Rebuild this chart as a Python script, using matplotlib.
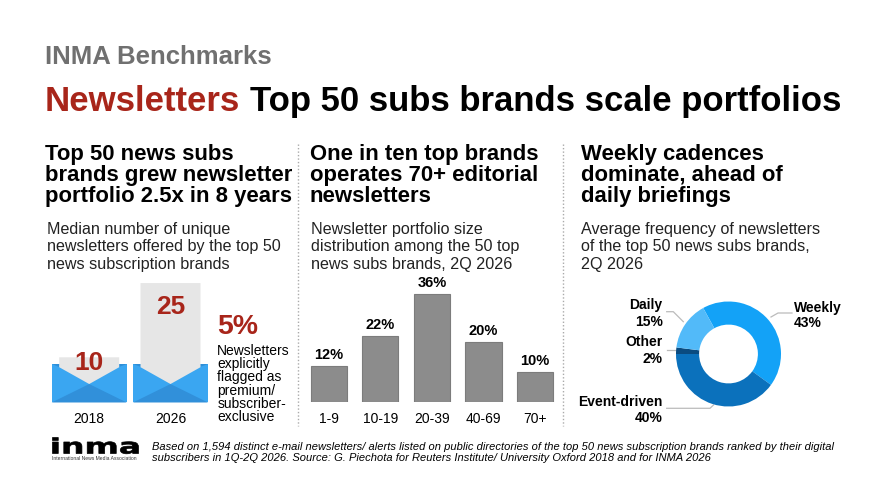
import matplotlib
matplotlib.use("Agg")
import matplotlib.pyplot as plt
from matplotlib.patches import Polygon, Rectangle, PathPatch
from matplotlib.textpath import TextPath
from matplotlib.font_manager import FontProperties
from matplotlib.transforms import Affine2D

plt.rcParams['font.family'] = ['Liberation Sans', 'DejaVu Sans']

# ======= DATA ==========
years = ["2018", "2026"]
median_newsletters = [10, 25]
premium_share = "5%"
premium_text = ["Newsletters", "explicitly", "flagged as", "premium/", "subscriber-", "exclusive"]

size_bins = ["1-9", "10-19", "20-39", "40-69", "70+"]
size_share = [12, 22, 36, 20, 10]

freq_labels = ["Weekly", "Event-driven", "Other", "Daily"]
freq_share = [43, 40, 2, 15]
freq_colors = ["#13A2F7", "#0B71BC", "#0A4B80", "#52BAF9"]

headers = [
    ["Top 50 news subs", "brands grew newsletter", "portfolio 2.5x in 8 years"],
    ["One in ten top brands", "operates 70+ editorial", "newsletters"],
    ["Weekly cadences", "dominate, ahead of", "daily briefings"],
]
subtitles = [
    ["Median number of unique", "newsletters offered by the top 50", "news subscription brands"],
    ["Newsletter portfolio size", "distribution among the 50 top", "news subs brands, 2Q 2026"],
    ["Average frequency of newsletters", "of the top 50 news subs brands,", "2Q 2026"],
]
footer = [
    "Based on 1,594 distinct e-mail newsletters/ alerts listed on public directories of the top 50 news subscription brands ranked by their digital",
    "subscribers in 1Q-2Q 2026. Source: G. Piechota for Reuters Institute/ University Oxford 2018 and for INMA 2026",
]
# =======================

W, H = 887, 499
RED = "#A8251A"

fig = plt.figure(figsize=(W / 100, H / 100), dpi=100)
bg = fig.add_axes([0, 0, 1, 1])
bg.set_xlim(0, W)
bg.set_ylim(H, 0)
bg.axis("off")


def px_axes(left, top, right, bottom):
    return fig.add_axes([left / W, 1 - bottom / H, (right - left) / W, (bottom - top) / H])


def put(x, y, s, **kw):
    return bg.text(x, y, s, va="baseline", **kw)


# titles
put(45, 64, "INMA Benchmarks", color="#707070", fontsize=18.5, fontweight="bold")
t1 = put(45, 110.5, "Newsletters", color=RED, fontsize=25, fontweight="bold")
bg.annotate("Top 50 subs brands scale portfolios", xy=(1, 0), xycoords=t1,
            xytext=(7, 0), textcoords="offset points", va="bottom", ha="left",
            fontsize=25, fontweight="bold", color="black")

# column headers and subtitles
head_x = [45, 310, 581]
sub_x = [47, 311, 581]
for c in range(3):
    for i, s in enumerate(headers[c]):
        put(head_x[c], 160 + i * 21, s, fontsize=15.9, fontweight="bold", color="black")
    for i, s in enumerate(subtitles[c]):
        put(sub_x[c], 234 + i * 17.3, s, fontsize=11.6, color="#222222")

# dotted separators
for x in [298, 563]:
    bg.plot([x, x], [144, 426], color="#AAAAAA", lw=1, ls=(0, (1, 1.5)))

# ---- column 1: envelopes ----
ax1 = px_axes(89.2 - 0.55 * 81.3, 406.8 - 26.5 * 4.95, 170.5 + 0.55 * 81.3, 406.8)
ax1.set_xlim(-0.55, 1.55)
ax1.set_ylim(0, 26.5)
for i, v in enumerate(median_newsletters):
    ax1.add_patch(Rectangle((i - 0.461, 0.87), 0.922, 7.78, color="#3AA6F1", lw=0, zorder=1))
    ax1.add_patch(Polygon([(i - 0.461, 8.65), (i - 0.369, 8.65), (i - 0.369, 8.1)],
                          closed=True, color="#2F8FD8", lw=0, zorder=1.5))
    ax1.add_patch(Polygon([(i + 0.461, 8.65), (i + 0.369, 8.65), (i + 0.369, 8.1)],
                          closed=True, color="#2F8FD8", lw=0, zorder=1.5))
    ax1.add_patch(Polygon([(i - 0.369, v), (i + 0.369, v), (i + 0.369, 8.0), (i, 4.6), (i - 0.369, 8.0)],
                          closed=True, color="#E6E6E6", lw=0, zorder=2))
    ax1.add_patch(Polygon([(i - 0.461, 0.87), (i, 4.6), (i + 0.461, 0.87)],
                          closed=True, color="#3190DA", lw=0, zorder=3))
    ax1.text(i, 0.75 * v, str(v), ha="center", va="baseline", color=RED,
             fontsize=19, fontweight="bold", zorder=4)
ax1.set_xticks(range(len(years)), years)
ax1.set_yticks([])
ax1.tick_params(length=0, pad=4, labelsize=10)
ax1.set_facecolor("none")
for sp in ax1.spines.values():
    sp.set_visible(False)

put(217.3, 333.5, premium_share, color=RED, fontsize=20.4, fontweight="bold")
for i, s in enumerate(premium_text):
    put(217.3, 355 + i * 13.2, s, fontsize=10, color="black")

# ---- column 2: bars ----
ax2 = px_axes(302.9, 402 - 40.8 * 2.99, 560.9, 402)
ax2.bar(range(len(size_bins)), size_share, width=0.7, color="#8C8C8C", edgecolor="#7C7C7C", linewidth=0.8)
for i, v in enumerate(size_share):
    ax2.annotate(f"{v}%", (i, v), xytext=(0, 3), textcoords="offset points",
                 ha="center", va="bottom", fontsize=10.5, fontweight="bold")
ax2.set_xlim(-0.5, len(size_bins) - 0.5)
ax2.set_ylim(0, 40.8)
ax2.set_xticks(range(len(size_bins)), size_bins)
ax2.set_yticks([])
ax2.tick_params(length=0, pad=7.5, labelsize=10)
ax2.set_facecolor("none")
for sp in ax2.spines.values():
    sp.set_visible(False)

# ---- column 3: donut ----
ax3 = px_axes(676, 301.5, 781, 406.5)
ax3.pie(freq_share, colors=freq_colors, startangle=118.8, counterclock=False,
        radius=1, wedgeprops=dict(width=0.44, linewidth=0))
ax3.set_xlim(-1, 1)
ax3.set_ylim(-1, 1)
ax3.set_aspect("equal")
ax3.axis("off")

lead = "#BBBBBB"
bg.plot([771, 778, 792], [317, 313, 313], color=lead, lw=0.9)
bg.plot([666.7, 673.3, 683.3], [311.7, 311.7, 321.7], color=lead, lw=0.9)
bg.plot([666.7, 676], [350, 350], color=lead, lw=0.9)
bg.plot([666.7, 710, 713.5], [408.3, 408.3, 405], color=lead, lw=0.9)

lab = dict(fontsize=10, fontweight="bold", color="black")
put(794, 312, freq_labels[0], ha="left", **lab)
put(794, 327, f"{freq_share[0]}%", ha="left", **lab)
put(662.7, 309, freq_labels[3], ha="right", **lab)
put(662.7, 325.5, f"{freq_share[3]}%", ha="right", **lab)
put(662.7, 346.5, freq_labels[2], ha="right", **lab)
put(662.7, 363, f"{freq_share[2]}%", ha="right", **lab)
put(662.7, 406.5, freq_labels[1], ha="right", **lab)
put(662.7, 422, f"{freq_share[1]}%", ha="right", **lab)

# ---- footer ----
tp = TextPath((0, 0), "inma", size=1, prop=FontProperties(family="DejaVu Sans", weight="bold"))
ext = tp.get_extents()
sx = (138.5 - 52.5) / ext.width
sy = (453.8 - 437.5) / ext.height
tr = Affine2D().translate(-ext.x0, -ext.y0).scale(sx, -sy).translate(52.5, 453.8) + bg.transData
bg.add_patch(PathPatch(tp, transform=tr, facecolor="black", edgecolor="black", lw=0.5))
put(52, 460, "International News Media Association", fontsize=3.6, color="#333333")

put(151.7, 450, footer[0], fontsize=8.0, style="italic", color="black")
put(151.7, 461, footer[1], fontsize=8.0, style="italic", color="black")

fig.savefig("out.png", dpi=100)
plt.close(fig)
